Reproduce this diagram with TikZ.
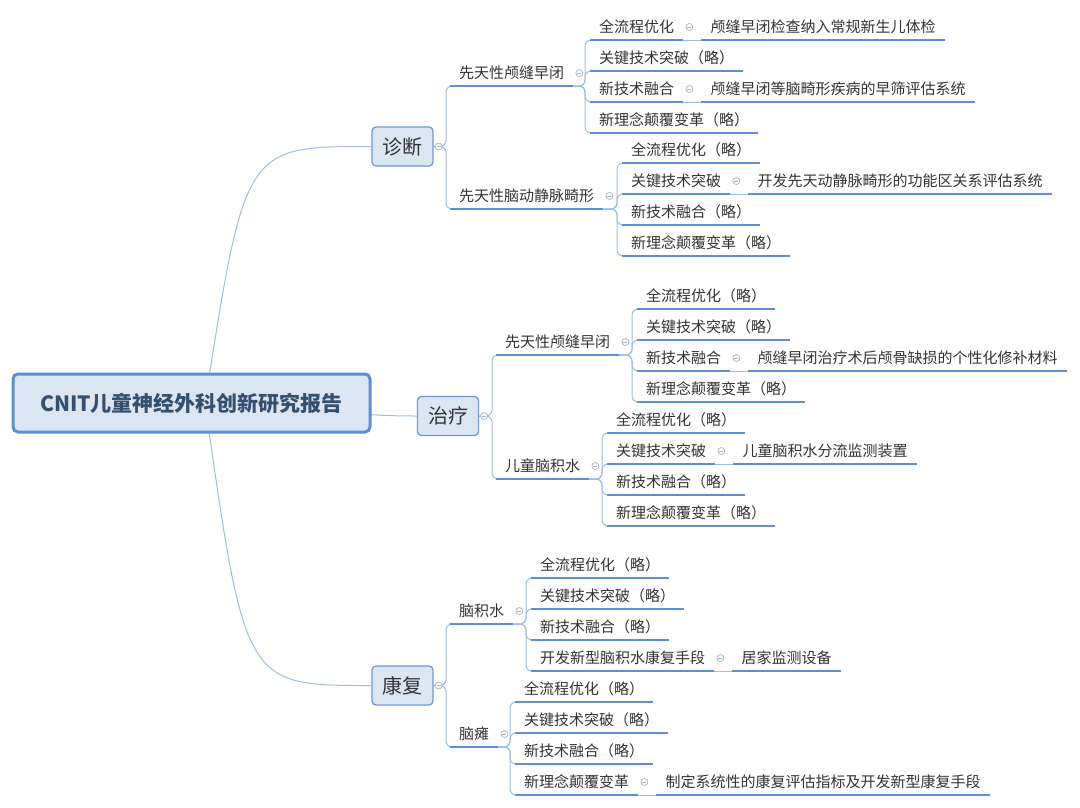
\documentclass[tikz,border=0pt]{standalone}
\usepackage{fontspec}
\setmainfont{Noto Sans CJK SC}
\usetikzlibrary{positioning,backgrounds}
\definecolor{lineblue}{HTML}{5B8FD6}
\definecolor{linkblue}{HTML}{9DBDE7}
\definecolor{boxfill}{HTML}{DCE6F2}
\definecolor{boxline}{HTML}{6C9BD6}
\definecolor{roottext}{HTML}{34506F}
\definecolor{topictext}{HTML}{333333}
\definecolor{foldgray}{HTML}{A3B3C6}

\begin{document}
\begin{tikzpicture}[x=1pt, y=-1pt,
        rootnode/.style={rectangle, rounded corners=5pt, draw=lineblue, line width=3pt, fill=boxfill, text=roottext, font=\fontsize{21}{24}\selectfont\bfseries, minimum width=357pt, minimum height=58pt},
        mainnode/.style={rectangle, rounded corners=4pt, draw=boxline, line width=1.3pt, fill=boxfill, text=topictext, font=\fontsize{20}{24}\selectfont, minimum width=61pt, minimum height=39pt},
        subnode/.style={anchor=south west, inner xsep=9pt, inner ysep=4pt, text height=11pt, text depth=3pt, text=topictext, font=\fontsize{15}{18}\selectfont,
            append after command={\pgfextra{\draw[lineblue, line width=2pt] (\tikzlastnode.south west) -- (\tikzlastnode.south east);}}},
        foldnode/.style={circle, draw=foldgray, fill=white, line width=0.7pt, inner sep=0pt, minimum size=7pt,
            path picture={\draw[foldgray, line width=0.7pt] ([xshift=-2pt]path picture bounding box.center) -- ([xshift=2pt]path picture bounding box.center);}},
        link/.style={draw=linkblue, line width=1pt},
        branch/.style={link, rounded corners=6pt},
]
        \useasboundingbox (0,0) rectangle (1080,807);

        \node[rootnode] (root) at (191.5,403) {CNIT儿童神经外科创新研究报告};
        \node[mainnode] (diag) at (402.5,146.5) {诊断};
        \node[mainnode] (treat) at (448,416) {治疗};
        \node[mainnode] (rehab) at (402.5,685.5) {康复};

        % 诊断
        \node[subnode] (diagcs) at (450,86) {先天性颅缝早闭};
        \node[subnode] (diagcsa) at (590,40) {全流程优化};
        \node[subnode] (diagcsax) [right=18pt of diagcsa.south east, anchor=south west] {颅缝早闭检查纳入常规新生儿体检};
        \node[subnode] (diagcsb) at (590,71) {关键技术突破（略）};
        \node[subnode] (diagcsc) at (590,102) {新技术融合};
        \node[subnode] (diagcscx) [right=18pt of diagcsc.south east, anchor=south west] {颅缝早闭等脑畸形疾病的早筛评估系统};
        \node[subnode] (diagcsd) at (590,133) {新理念颠覆变革（略）};
        \node[subnode] (diagavm) at (450,209) {先天性脑动静脉畸形};
        \node[subnode] (diagavma) at (622,163) {全流程优化（略）};
        \node[subnode] (diagavmb) at (622,194) {关键技术突破};
        \node[subnode] (diagavmbx) [right=18pt of diagavmb.south east, anchor=south west] {开发先天动静脉畸形的功能区关系评估系统};
        \node[subnode] (diagavmc) at (622,225) {新技术融合（略）};
        \node[subnode] (diagavmd) at (622,256) {新理念颠覆变革（略）};

        % 治疗
        \node[subnode] (treatcs) at (496,355) {先天性颅缝早闭};
        \node[subnode] (treatcsa) at (637,309) {全流程优化（略）};
        \node[subnode] (treatcsb) at (637,340) {关键技术突破（略）};
        \node[subnode] (treatcsc) at (637,371) {新技术融合};
        \node[subnode] (treatcscx) [right=18pt of treatcsc.south east, anchor=south west] {颅缝早闭治疗术后颅骨缺损的个性化修补材料};
        \node[subnode] (treatcsd) at (637,402) {新理念颠覆变革（略）};
        \node[subnode] (treathy) at (496,479) {儿童脑积水};
        \node[subnode] (treathya) at (607,433) {全流程优化（略）};
        \node[subnode] (treathyb) at (607,464) {关键技术突破};
        \node[subnode] (treathybx) [right=18pt of treathyb.south east, anchor=south west] {儿童脑积水分流监测装置};
        \node[subnode] (treathyc) at (607,495) {新技术融合（略）};
        \node[subnode] (treathyd) at (607,526) {新理念颠覆变革（略）};

        % 康复
        \node[subnode] (rehabhy) at (450,624) {脑积水};
        \node[subnode] (rehabhya) at (531,578) {全流程优化（略）};
        \node[subnode] (rehabhyb) at (531,609) {关键技术突破（略）};
        \node[subnode] (rehabhyc) at (531,640) {新技术融合（略）};
        \node[subnode] (rehabhyd) at (531,671) {开发新型脑积水康复手段};
        \node[subnode] (rehabhydx) [right=18pt of rehabhyd.south east, anchor=south west] {居家监测设备};
        \node[subnode] (rehabcp) at (450,747) {脑瘫};
        \node[subnode] (rehabcpa) at (515,702) {全流程优化（略）};
        \node[subnode] (rehabcpb) at (515,733) {关键技术突破（略）};
        \node[subnode] (rehabcpc) at (515,764) {新技术融合（略）};
        \node[subnode] (rehabcpd) at (515,795) {新理念颠覆变革};
        \node[subnode] (rehabcpdx) [right=18pt of rehabcpd.south east, anchor=south west] {制定系统性的康复评估指标及开发新型康复手段};

        \begin{pgfonlayer}{background}
        \draw[link] ([xshift=13.5pt]root.center) .. controls (245,146.5) .. (diag.west);
        \draw[link] ([xshift=13.5pt]root.center) .. controls (300,403) and (330,416) .. (treat.west);
        \draw[link] ([xshift=13.5pt]root.center) .. controls (245,685.5) .. (rehab.west);

        \draw[branch] (diag.east) -| ([xshift=-4pt]diagcs.south west) -- ([xshift=8pt]diagcs.south west);
        \draw[branch] (diag.east) -| ([xshift=-4pt]diagavm.south west) -- ([xshift=8pt]diagavm.south west);
        \draw[branch] (treat.east) -| ([xshift=-4pt]treatcs.south west) -- ([xshift=8pt]treatcs.south west);
        \draw[branch] (treat.east) -| ([xshift=-4pt]treathy.south west) -- ([xshift=8pt]treathy.south west);
        \draw[branch] (rehab.east) -| ([xshift=-4pt]rehabhy.south west) -- ([xshift=8pt]rehabhy.south west);
        \draw[branch] (rehab.east) -| ([xshift=-4pt]rehabcp.south west) -- ([xshift=8pt]rehabcp.south west);

        \draw[branch] (diagcs.south east) -| ([xshift=-5pt]diagcsa.south west) -- ([xshift=8pt]diagcsa.south west);
        \draw[branch] (diagcs.south east) -| ([xshift=-5pt]diagcsb.south west) -- ([xshift=8pt]diagcsb.south west);
        \draw[branch] (diagcs.south east) -| ([xshift=-5pt]diagcsc.south west) -- ([xshift=8pt]diagcsc.south west);
        \draw[branch] (diagcs.south east) -| ([xshift=-5pt]diagcsd.south west) -- ([xshift=8pt]diagcsd.south west);
        \draw[branch] (diagavm.south east) -| ([xshift=-5pt]diagavma.south west) -- ([xshift=8pt]diagavma.south west);
        \draw[branch] (diagavm.south east) -| ([xshift=-5pt]diagavmb.south west) -- ([xshift=8pt]diagavmb.south west);
        \draw[branch] (diagavm.south east) -| ([xshift=-5pt]diagavmc.south west) -- ([xshift=8pt]diagavmc.south west);
        \draw[branch] (diagavm.south east) -| ([xshift=-5pt]diagavmd.south west) -- ([xshift=8pt]diagavmd.south west);
        \draw[branch] (treatcs.south east) -| ([xshift=-5pt]treatcsa.south west) -- ([xshift=8pt]treatcsa.south west);
        \draw[branch] (treatcs.south east) -| ([xshift=-5pt]treatcsb.south west) -- ([xshift=8pt]treatcsb.south west);
        \draw[branch] (treatcs.south east) -| ([xshift=-5pt]treatcsc.south west) -- ([xshift=8pt]treatcsc.south west);
        \draw[branch] (treatcs.south east) -| ([xshift=-5pt]treatcsd.south west) -- ([xshift=8pt]treatcsd.south west);
        \draw[branch] (treathy.south east) -| ([xshift=-5pt]treathya.south west) -- ([xshift=8pt]treathya.south west);
        \draw[branch] (treathy.south east) -| ([xshift=-5pt]treathyb.south west) -- ([xshift=8pt]treathyb.south west);
        \draw[branch] (treathy.south east) -| ([xshift=-5pt]treathyc.south west) -- ([xshift=8pt]treathyc.south west);
        \draw[branch] (treathy.south east) -| ([xshift=-5pt]treathyd.south west) -- ([xshift=8pt]treathyd.south west);
        \draw[branch] (rehabhy.south east) -| ([xshift=-5pt]rehabhya.south west) -- ([xshift=8pt]rehabhya.south west);
        \draw[branch] (rehabhy.south east) -| ([xshift=-5pt]rehabhyb.south west) -- ([xshift=8pt]rehabhyb.south west);
        \draw[branch] (rehabhy.south east) -| ([xshift=-5pt]rehabhyc.south west) -- ([xshift=8pt]rehabhyc.south west);
        \draw[branch] (rehabhy.south east) -| ([xshift=-5pt]rehabhyd.south west) -- ([xshift=8pt]rehabhyd.south west);
        \draw[branch] (rehabcp.south east) -| ([xshift=-5pt]rehabcpa.south west) -- ([xshift=8pt]rehabcpa.south west);
        \draw[branch] (rehabcp.south east) -| ([xshift=-5pt]rehabcpb.south west) -- ([xshift=8pt]rehabcpb.south west);
        \draw[branch] (rehabcp.south east) -| ([xshift=-5pt]rehabcpc.south west) -- ([xshift=8pt]rehabcpc.south west);
        \draw[branch] (rehabcp.south east) -| ([xshift=-5pt]rehabcpd.south west) -- ([xshift=8pt]rehabcpd.south west);

        \draw[link] (diagcsa.south east) -- (diagcsax.south west);
        \draw[link] (diagcsc.south east) -- (diagcscx.south west);
        \draw[link] (diagavmb.south east) -- (diagavmbx.south west);
        \draw[link] (treatcsc.south east) -- (treatcscx.south west);
        \draw[link] (treathyb.south east) -- (treathybx.south west);
        \draw[link] (rehabhyd.south east) -- (rehabhydx.south west);
        \draw[link] (rehabcpd.south east) -- (rehabcpdx.south west);
        \end{pgfonlayer}

        % fold marks
        \node[foldnode] (diagf) at ([xshift=5pt]diag.east) {};
        \node[foldnode] (treatf) at ([xshift=5pt]treat.east) {};
        \node[foldnode] (rehabf) at ([xshift=5pt]rehab.east) {};
        \node[foldnode] (diagcsf) at ([xshift=6pt, yshift=13pt]diagcs.south east) {};
        \node[foldnode] (diagavmf) at ([xshift=6pt, yshift=13pt]diagavm.south east) {};
        \node[foldnode] (treatcsf) at ([xshift=6pt, yshift=13pt]treatcs.south east) {};
        \node[foldnode] (treathyf) at ([xshift=6pt, yshift=13pt]treathy.south east) {};
        \node[foldnode] (rehabhyf) at ([xshift=6pt, yshift=13pt]rehabhy.south east) {};
        \node[foldnode] (rehabcpf) at ([xshift=6pt, yshift=13pt]rehabcp.south east) {};
        \node[foldnode] (diagcsaf) at ([xshift=6pt, yshift=13pt]diagcsa.south east) {};
        \node[foldnode] (diagcscf) at ([xshift=6pt, yshift=13pt]diagcsc.south east) {};
        \node[foldnode] (diagavmbf) at ([xshift=6pt, yshift=13pt]diagavmb.south east) {};
        \node[foldnode] (treatcscf) at ([xshift=6pt, yshift=13pt]treatcsc.south east) {};
        \node[foldnode] (treathybf) at ([xshift=6pt, yshift=13pt]treathyb.south east) {};
        \node[foldnode] (rehabhydf) at ([xshift=6pt, yshift=13pt]rehabhyd.south east) {};
        \node[foldnode] (rehabcpdf) at ([xshift=6pt, yshift=13pt]rehabcpd.south east) {};
\end{tikzpicture}
\end{document}
